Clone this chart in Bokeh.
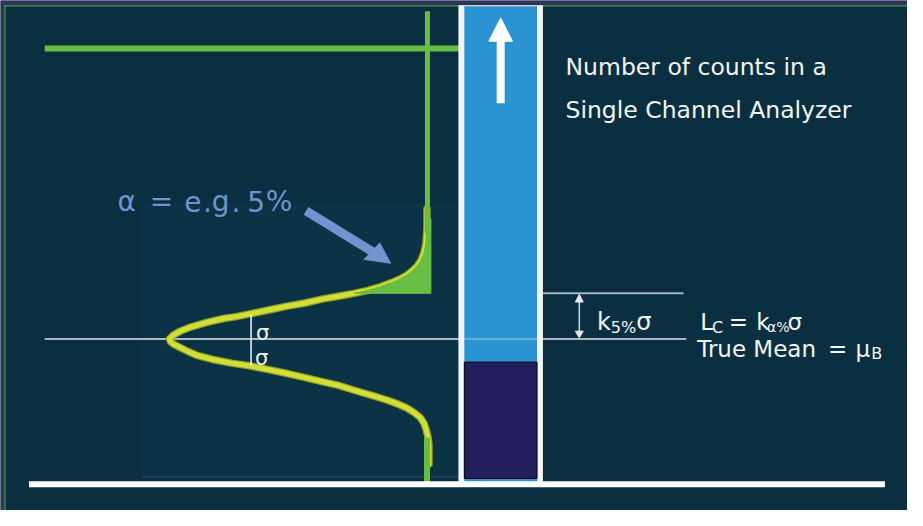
from bokeh.plotting import figure
from bokeh.models import Range1d
from bokeh.core.properties import value
from bokeh.embed import file_html
from bokeh.resources import INLINE

# ---- diagram data (reference pixel coordinates, y grows downward) ----
BG = "#0a2f41"
FRAME = "#2f345e"
GREEN = "#68bd44"
YELLOW = "#d0de38"
YELLOW_EDGE = "#93a326"
BLUE = "#2b93d2"
NAVY = "#231f5e"
PERI = "#7193d0"
WHITE = "#f3f5f6"
FONT = "DejaVu Sans"

# background distribution curve
curve_x = [434, 434, 433, 431, 428, 424, 420, 414, 407, 398, 387, 374, 360, 344,
           327, 310, 293, 274, 255, 240, 227, 210, 193, 183, 176, 172, 173, 177,
           183, 191, 200, 215, 235, 255, 274, 293, 310, 327, 344, 360, 377, 393,
           404, 413, 421, 427, 431, 433, 435, 436, 436]
curve_y = [215, 235, 250, 260, 268, 274, 278, 283, 287, 291, 295, 299, 302, 305,
           308, 312, 315, 319, 323, 326, 328, 332, 337, 341, 345, 349, 352, 355,
           358, 362, 366, 370, 374, 377, 381, 385, 389, 393, 397, 402, 407, 412,
           416, 420, 425, 430, 436, 442, 450, 458, 478]

# alpha tail (shaded) above the critical level
tail_x = [360, 374, 387, 398, 407, 414, 420, 424, 428, 431, 433, 434, 438, 438]
tail_y = [302, 299, 295, 291, 287, 283, 278, 274, 268, 260, 250, 225, 225, 302]

# levels
mean_level = 349
lc_level = 302

# counts bar
bar_left, bar_right = 472, 546
bar_top, bar_bottom = 6, 497
bg_counts_top, bg_counts_bottom = 373, 493

p = figure(width=907, height=510, x_range=Range1d(0, 923), y_range=Range1d(526, 0),
           x_axis_location=None, y_axis_location=None, toolbar_location=None,
           output_backend="svg", min_border=0, background_fill_color=BG,
           border_fill_color=BG, outline_line_color=None)
p.grid.visible = False

# slide frame
p.quad(left=[0], right=[923], top=[0], bottom=[5], fill_color=FRAME, line_color=None)
p.quad(left=[0], right=[4], top=[0], bottom=[526], fill_color=FRAME, line_color=None)
p.segment(x0=[4], y0=[5.5], x1=[923], y1=[5.5], line_color="#4f9a3c", line_width=1.2)
p.segment(x0=[4.5], y0=[5], x1=[4.5], y1=[526], line_color="#4f9a3c", line_width=1.2)

# subtle pasted-image panel
p.quad(left=[144], right=[466], top=[208], bottom=[491], fill_color="#0b3345", line_color=None)
p.segment(x0=[144], y0=[491.5], x1=[466], y1=[491.5], line_color="#2a5262", line_width=1)

# mean line (full, partly covered by the bar)
p.segment(x0=[45], y0=[mean_level], x1=[698], y1=[mean_level], line_color="#dfe5e8", line_width=1.5)

# distribution curve
p.line(curve_x, curve_y, line_color=YELLOW_EDGE, line_width=7.5, line_join="round", line_cap="round")
p.line(curve_x, curve_y, line_color=YELLOW, line_width=5, line_join="round", line_cap="round")

# tail fill
p.patch(tail_x, tail_y, fill_color=GREEN, line_color=GREEN, line_width=1)

# green guide lines
p.segment(x0=[45], y0=[49.5], x1=[467], y1=[49.5], line_color=GREEN, line_width=6)
p.segment(x0=[434.5], y0=[11], x1=[434.5], y1=[240], line_color=GREEN, line_width=5)
p.segment(x0=[434], y0=[451], x1=[434], y1=[498], line_color=GREEN, line_width=6)

# sigma marker
p.segment(x0=[255], y0=[324], x1=[255], y1=[377], line_color=WHITE, line_width=1.5)

# counts bar
p.quad(left=[466], right=[552], top=[5], bottom=[497], fill_color=WHITE, line_color=None)
p.quad(left=[bar_left], right=[bar_right], top=[bar_top], bottom=[bar_bottom], fill_color=BLUE, line_color=None)
p.quad(left=[bar_left], right=[bar_right], top=[bg_counts_top], bottom=[bg_counts_bottom],
       fill_color=NAVY, line_color="#000000", line_width=1)
p.segment(x0=[bar_left], y0=[mean_level], x1=[bar_right], y1=[mean_level], line_color="#dfe5e8",
          line_width=1.5, line_alpha=0.45)

# up arrow inside bar
p.segment(x0=[509], y0=[106], x1=[509], y1=[40], line_color="white", line_width=8, line_cap="butt")
p.patch([497, 521, 509], [42, 42, 18], fill_color="white", line_color="white")

# critical level line and double arrow
p.segment(x0=[552], y0=[lc_level], x1=[695], y1=[lc_level], line_color="#aab6bb", line_width=2)
p.segment(x0=[589], y0=[308], x1=[589], y1=[343], line_color="#cfd4d6", line_width=1.5)
p.patch([585, 593, 589], [311, 311, 303], fill_color="#e6e9ea", line_color="#e6e9ea")
p.patch([585, 593, 589], [341, 341, 348], fill_color="#e6e9ea", line_color="#e6e9ea")

# alpha pointer arrow
p.segment(x0=[311], y0=[217], x1=[380], y1=[260], line_color=PERI, line_width=9, line_cap="butt")
p.patch([370, 386, 397], [267, 250, 271], fill_color=PERI, line_color=PERI)

# bottom white axis line
p.segment(x0=[29], y0=[499], x1=[900], y1=[499], line_color="white", line_width=6)


def txt(xs, ys, labels, size, color=WHITE):
    p.text(x=xs, y=ys, text=labels, text_font=value(FONT), text_font_size=value(size),
           text_color=color, text_align="left", text_baseline="alphabetic")


# texts
txt([119, 152, 187, 206, 215, 235, 251, 270], [207] * 8,
    ["α", "=", "e", ".", "g", ".", "5", "%"], "28px", PERI)
txt([575, 575], [69, 113], ["Number of counts in a", "Single Channel Analyzer"], "23.5px")
txt([260, 259], [343, 369], ["σ", "σ"], "21px")
txt([607, 647], [332, 332], ["k", "σ"], "24px")
txt([621], [337], ["5%"], "16px")
txt([712, 741, 769, 801], [332, 332, 332, 332], ["L", "=", "k", "σ"], "23px")
txt([724], [337], ["C"], "16px")
txt([780], [337], ["α%"], "14px")
txt([709, 842, 870], [359, 359, 359], ["True Mean", "=", "μ"], "23px")
txt([886], [364], ["B"], "16px")

open("out.html", "w").write(file_html(p, INLINE))
